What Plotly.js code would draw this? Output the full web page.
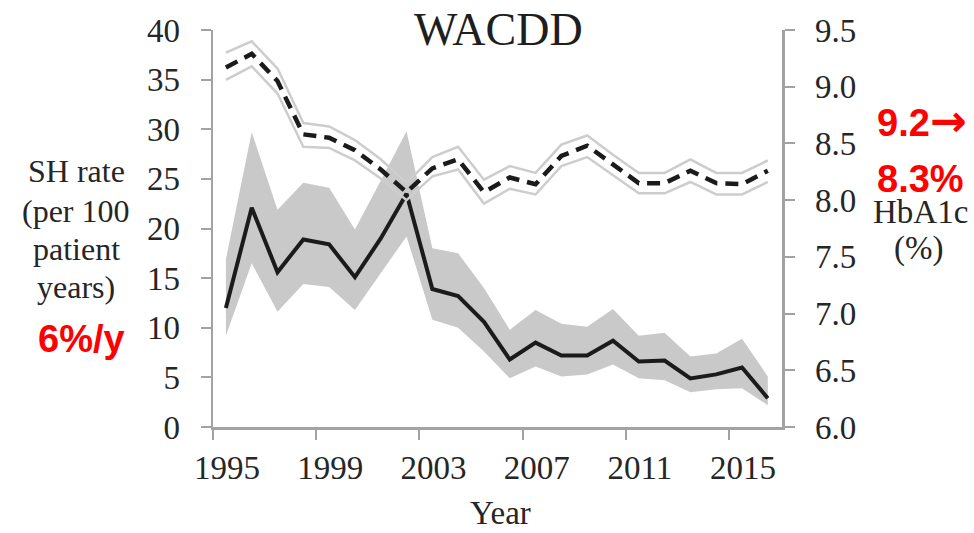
<!DOCTYPE html>
<html>
<head>
<meta charset="utf-8">
<script src="https://cdn.plot.ly/plotly-3.0.1.min.js"></script>
<style>html,body{margin:0;padding:0;background:#fff;}#chart{width:974px;height:533px;}</style>
</head>
<body>
<div id="chart"></div>
<script>
// ---- data ----
const years = [1995,1996,1997,1998,1999,2000,2001,2002,2003,2004,2005,2006,2007,2008,2009,2010,2011,2012,2013,2014,2015,2016];
const shRate  = [12.0,22.1,15.6,18.9,18.4,15.1,19.0,23.5,13.9,13.2,10.6,6.8,8.5,7.2,7.2,8.7,6.6,6.7,4.9,5.3,6.0,2.9];
const shUpper = [16.9,29.7,21.9,24.6,24.1,19.9,24.8,29.8,18.0,17.5,14.0,9.8,11.8,10.4,10.1,11.9,9.2,9.5,7.1,7.4,8.9,5.1];
const shLower = [9.2,16.5,11.6,14.4,14.1,11.8,15.5,19.2,10.8,10.0,7.6,4.9,6.1,5.1,5.3,6.3,4.9,4.7,3.5,3.8,3.9,2.2];
const hba1c   = [9.17,9.29,9.05,8.58,8.55,8.44,8.27,8.07,8.28,8.36,8.07,8.20,8.14,8.39,8.48,8.31,8.15,8.15,8.26,8.15,8.14,8.26];
const hbUpper = [9.30,9.40,9.16,8.68,8.65,8.53,8.36,8.15,8.38,8.47,8.18,8.30,8.24,8.49,8.57,8.40,8.24,8.24,8.36,8.24,8.24,8.35];
const hbLower = [9.06,9.18,8.94,8.47,8.46,8.35,8.19,8.00,8.21,8.27,7.97,8.10,8.05,8.30,8.38,8.22,8.06,8.06,8.16,8.05,8.05,8.16];
const tickYears = [1995,1999,2003,2007,2011,2015];
const tickLabels = ['1995','1999','2003','2007','2011','2015'];
const leftTitleLines = ['SH rate','(per 100','patient','years)'];

// ---- layout helpers ----
const W = 974, H = 533;
const M = {l:213, r:192, t:30, b:106};
const PW = W - M.l - M.r, PH = H - M.t - M.b;
const px = X => (X - M.l) / PW;
const py = Y => (H - M.b - Y) / PH;

const serif = 'Liberation Serif, Times New Roman, serif';
const sans = 'Liberation Sans, Arial, sans-serif';
const axisColor = '#a3a3a3';
const textColor = '#262626';

const traces = [
  {x: years, y: shLower, type:'scatter', mode:'lines', line:{width:0, color:'#c9c9c9'}, hoverinfo:'skip', yaxis:'y'},
  {x: years, y: shUpper, type:'scatter', mode:'lines', line:{width:0, color:'#c9c9c9'}, fill:'tonexty', fillcolor:'#c9c9c9', hoverinfo:'skip', yaxis:'y'},
  {x: years, y: shRate, type:'scatter', mode:'lines', line:{width:4, color:'#1b1b1b'}, yaxis:'y'},
  {x: years, y: hbLower, type:'scatter', mode:'lines', line:{width:2.5, color:'#cdcdcd'}, yaxis:'y2'},
  {x: years, y: hbUpper, type:'scatter', mode:'lines', line:{width:2.5, color:'#cdcdcd'}, yaxis:'y2'},
  {x: years, y: hba1c, type:'scatter', mode:'lines', line:{width:4.5, color:'#1b1b1b', dash:'13px,8px'}, yaxis:'y2'}
];

function ann(text, X, Y, size, family, color, extra) {
  return Object.assign({text:text, xref:'paper', yref:'paper', x:px(X), y:py(Y), xanchor:'center', yanchor:'middle',
    showarrow:false, font:{family:family, size:size, color:color}}, extra || {});
}

const leftBaselines = [181.7, 221.7, 260, 298];
const annotations = [
  ann('WACDD', 498, 29.5, 46, serif, '#1e1e1e'),
  ann('<b>6%/y</b>', 81, 339, 38, sans, '#ff0000'),
  ann('<b>9.2</b><span style="font-family:DejaVu Sans;font-weight:bold;font-size:44px">→</span>', 922, 120, 38, sans, '#ff0000'),
  ann('<b>8.3%</b>', 920, 179, 38, sans, '#ff0000'),
  ann('HbA1c', 920, 212, 33, serif, textColor),
  ann('(%)', 918, 248, 33, serif, textColor),
  ann('Year', 500, 533, 33, serif, textColor, {yanchor:'bottom'})
];
leftTitleLines.forEach((t, i) => annotations.push(ann(t, 76, leftBaselines[i] - 10.8, 32, serif, textColor)));

const layout = {
  width: W, height: H,
  margin: M,
  paper_bgcolor:'#ffffff', plot_bgcolor:'#ffffff',
  showlegend:false,
  xaxis: {
    range:[1994.5, 2016.55],
    tickmode:'array',
    tickvals: tickYears.map(v => v - 0.5),
    ticktext: tickLabels,
    ticklabelshift: 14,
    ticks:'outside', ticklen:10, tickwidth:2, tickcolor:axisColor,
    showline:true, linecolor:axisColor, linewidth:2.5,
    showgrid:false, zeroline:false,
    tickfont:{family:serif, size:33, color:textColor},
    ticklabelstandoff: 0
  },
  yaxis: {
    range:[0,40], dtick:5, tick0:0,
    ticks:'outside', ticklen:10, tickwidth:2, tickcolor:axisColor,
    showline:true, linecolor:axisColor, linewidth:2.5,
    showgrid:false, zeroline:false,
    tickfont:{family:serif, size:33, color:textColor},
    ticklabelstandoff: 14
  },
  yaxis2: {
    range:[6,9.5], dtick:0.5, tick0:6, tickformat:'.1f',
    overlaying:'y', side:'right',
    ticks:'outside', ticklen:10, tickwidth:2, tickcolor:axisColor,
    showline:true, linecolor:axisColor, linewidth:2.5,
    showgrid:false, zeroline:false,
    tickfont:{family:serif, size:33, color:textColor},
    ticklabelstandoff: 14
  },
  annotations: annotations
};

Plotly.newPlot('chart', traces, layout, {displayModeBar:false, staticPlot:true});
</script>
</body>
</html>
